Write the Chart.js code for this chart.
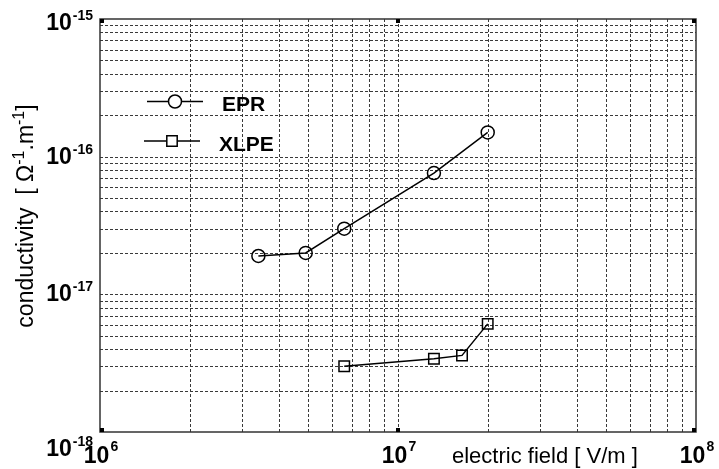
<!DOCTYPE html>
<html><head><meta charset="utf-8">
<script src="https://cdn.jsdelivr.net/npm/chart.js@4/dist/chart.umd.min.js"></script>
<style>html,body{margin:0;padding:0;background:#fff}#wrap{width:719px;height:469px;position:relative}</style>
</head><body><div id="wrap"><canvas id="c" width="719" height="469"></canvas></div>
<script>
// ---- data ----
const eprField = [3.4e6, 4.9e6, 6.6e6, 1.32e7, 2.0e7];
const eprCond  = [1.9e-17, 2.0e-17, 3.0e-17, 7.6e-17, 1.5e-16];
const xlpeField = [6.6e6, 1.32e7, 1.64e7, 2.0e7];
const xlpeCond  = [3.0e-18, 3.4e-18, 3.6e-18, 6.1e-18];
const seriesNames = ['EPR', 'XLPE'];
const xTickExps = [6, 7, 8];
const yTickExps = [-18, -17, -16, -15];
const xTitle = 'electric field [ V/m ]';
const yTitleMain = 'conductivity  [ \u03A9';
const yTitleMid = '.m';
const yTitleSup = '-1';

const FONT = '"Liberation Sans", Arial, Helvetica, sans-serif';
function gridVals(e0, e1) {
  const v = [];
  for (let e = e0; e < e1; e++) for (let m = 1; m <= 9; m++) v.push(m * Math.pow(10, e));
  v.push(Math.pow(10, e1));
  return v;
}
function drawPow(ctx, exp, x, y, align, baseSize, supSize, supRise) {
  ctx.font = 'bold ' + baseSize + 'px ' + FONT;
  const wb = ctx.measureText('10').width;
  ctx.font = 'bold ' + supSize + 'px ' + FONT;
  const ws = ctx.measureText(String(exp)).width;
  const gap = 1;
  const total = wb + gap + ws;
  let x0 = align === 'right' ? x - total : (align === 'center' ? x - total / 2 : x);
  ctx.textAlign = 'left';
  ctx.textBaseline = 'alphabetic';
  ctx.font = 'bold ' + baseSize + 'px ' + FONT;
  ctx.fillText('10', x0, y);
  ctx.font = 'bold ' + supSize + 'px ' + FONT;
  ctx.fillText(String(exp), x0 + wb + gap, y - supRise);
}

const decor = {
  id: 'decor',
  beforeDatasetsDraw(chart) {
    const { ctx, chartArea: a, scales: { x, y } } = chart;
    ctx.save();
    ctx.strokeStyle = '#3a3a3a';
    ctx.lineWidth = 1;
    ctx.setLineDash([3, 2]);
    gridVals(xTickExps[0], xTickExps[xTickExps.length - 1]).forEach(v => {
      const px = Math.round(x.getPixelForValue(v)) + 0.5;
      if (px <= a.left + 1 || px >= a.right - 1) return;
      ctx.beginPath(); ctx.moveTo(px, a.top); ctx.lineTo(px, a.bottom); ctx.stroke();
    });
    gridVals(yTickExps[0], yTickExps[yTickExps.length - 1]).forEach(v => {
      const py = Math.round(y.getPixelForValue(v)) + 0.5;
      if (py <= a.top + 1 || py >= a.bottom - 1) return;
      ctx.beginPath(); ctx.moveTo(a.left, py); ctx.lineTo(a.right, py); ctx.stroke();
    });
    ctx.restore();
  },
  afterDatasetsDraw(chart) {
    const { ctx, chartArea: a, scales: { x, y } } = chart;
    ctx.save();
    // frame
    ctx.strokeStyle = '#333';
    ctx.lineWidth = 1.5;
    ctx.strokeRect(a.left, a.top, a.right - a.left, a.bottom - a.top);
    // small major tick marks
    ctx.fillStyle = '#000';
    xTickExps.forEach(e => {
      const px = x.getPixelForValue(Math.pow(10, e));
      const sx = Math.min(Math.max(px - 2, a.left), a.right - 4);
      ctx.fillRect(sx, a.bottom - 4, 4, 4);
      ctx.fillRect(sx, a.top, 4, 4);
    });
    // legend
    chart.data.datasets.forEach((ds, i) => {
      const rowY = [101.5, 141][i];
      const x0 = [147, 144][i], x1 = x0 + 56, cx = (x0 + x1) / 2;
      const r = i === 0 ? 6.5 : 5.2;
      ctx.strokeStyle = ds.borderColor;
      ctx.lineWidth = 1.5;
      ctx.beginPath();
      ctx.moveTo(x0, rowY); ctx.lineTo(cx - r, rowY);
      ctx.moveTo(cx + r, rowY); ctx.lineTo(x1, rowY);
      ctx.stroke();
      ctx.fillStyle = '#fff';
      ctx.beginPath();
      if (i === 0) ctx.arc(cx, rowY, r, 0, Math.PI * 2);
      else ctx.rect(cx - r, rowY - r, 2 * r, 2 * r);
      ctx.fill(); ctx.stroke();
      ctx.fillStyle = '#000';
      ctx.font = 'bold 21px ' + FONT;
      ctx.textAlign = 'left';
      ctx.textBaseline = 'alphabetic';
      ctx.fillText(ds.label, x1 + 19, rowY + 9.5);
    });
    ctx.restore();
  },
  afterDraw(chart) {
    const { ctx, chartArea: a, scales: { x, y } } = chart;
    ctx.save();
    ctx.fillStyle = '#000';
    // y tick labels
    yTickExps.forEach((e, i) => {
      const py = y.getPixelForValue(Math.pow(10, e));
      const dy = i === 0 ? 24 : (i === yTickExps.length - 1 ? 11 : 7);
      drawPow(ctx, e, 93, py + dy, 'right', 23, 14, 10);
    });
    // x tick labels
    xTickExps.forEach(e => {
      const px = x.getPixelForValue(Math.pow(10, e));
      drawPow(ctx, e, px + 1, 463, 'center', 23, 14, 12);
    });
    // x title
    ctx.font = '22px ' + FONT;
    ctx.textAlign = 'left';
    ctx.textBaseline = 'alphabetic';
    ctx.fillText(xTitle, 452, 463);
    // y title (rotated)
    ctx.translate(33, 216);
    ctx.rotate(-Math.PI / 2);
    const parts = [[yTitleMain, 23, 0], [yTitleSup, 16, 9], [yTitleMid, 23, 0], [yTitleSup, 16, 9], [']', 23, 0]];
    let w = 0;
    parts.forEach(p => { ctx.font = p[1] + 'px ' + FONT; w += ctx.measureText(p[0]).width; });
    let cx = -w / 2;
    parts.forEach(p => {
      ctx.font = p[1] + 'px ' + FONT;
      ctx.fillText(p[0], cx, -p[2]);
      cx += ctx.measureText(p[0]).width;
    });
    ctx.restore();
  }
};

new Chart(document.getElementById('c'), {
  type: 'scatter',
  data: {
    datasets: [
      {
        label: seriesNames[0],
        data: eprField.map((v, i) => ({ x: v, y: eprCond[i] })),
        showLine: true, borderColor: '#000', borderWidth: 1.5,
        pointStyle: 'circle', pointRadius: 6.5, pointBorderWidth: 1.5,
        pointBackgroundColor: 'rgba(0,0,0,0)', pointBorderColor: '#000', backgroundColor: 'rgba(0,0,0,0)'
      },
      {
        label: seriesNames[1],
        data: xlpeField.map((v, i) => ({ x: v, y: xlpeCond[i] })),
        showLine: true, borderColor: '#000', borderWidth: 1.5,
        pointStyle: 'rect', pointRadius: 7.4, pointBorderWidth: 1.5,
        pointBackgroundColor: 'rgba(0,0,0,0)', pointBorderColor: '#000', backgroundColor: 'rgba(0,0,0,0)'
      }
    ]
  },
  options: {
    responsive: false,
    animation: false,
    layout: { padding: { left: 100, top: 19, right: 23, bottom: 37 } },
    plugins: { legend: { display: false }, tooltip: { enabled: false }, title: { display: false } },
    scales: {
      x: { type: 'logarithmic', display: false, min: Math.pow(10, xTickExps[0]), max: Math.pow(10, xTickExps[xTickExps.length - 1]) },
      y: { type: 'logarithmic', display: false, min: Math.pow(10, yTickExps[0]), max: Math.pow(10, yTickExps[yTickExps.length - 1]) }
    }
  },
  plugins: [decor]
});
</script>
</body></html>
